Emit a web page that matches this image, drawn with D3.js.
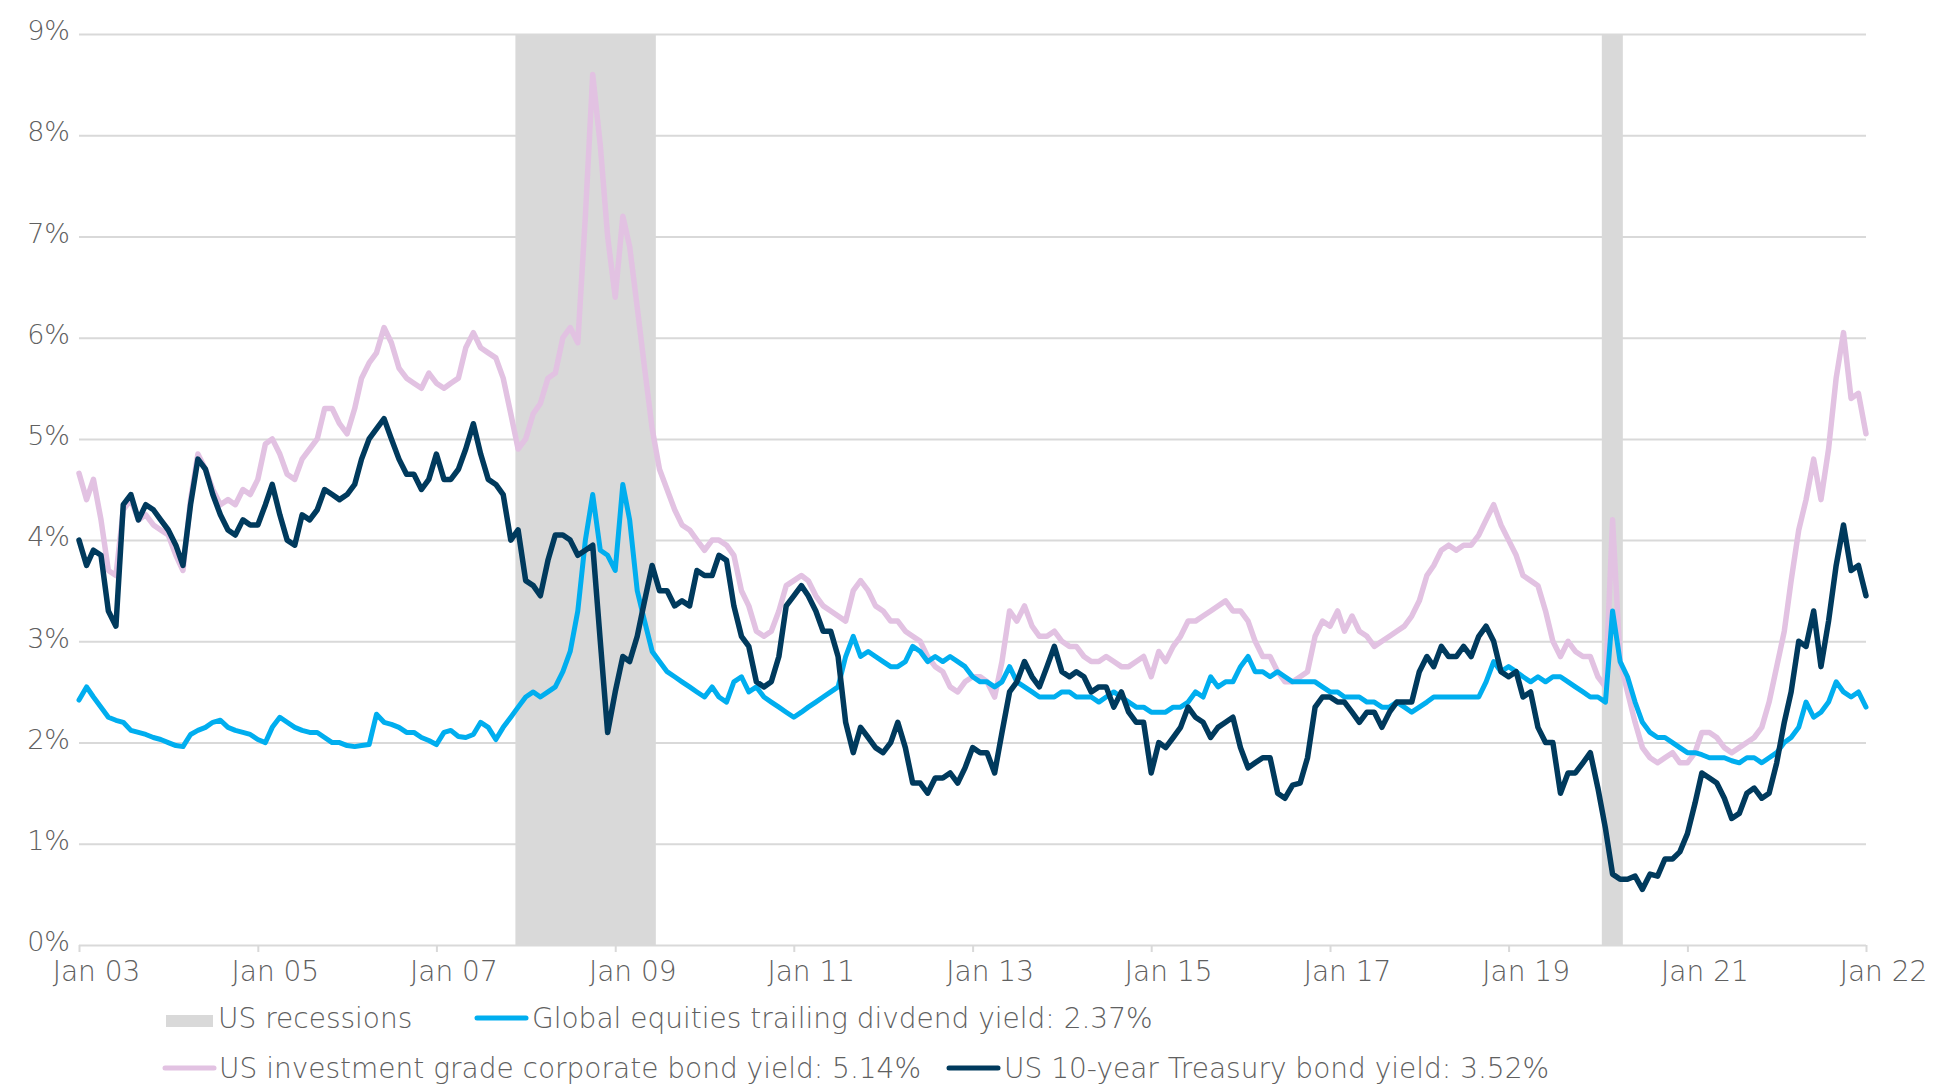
<!DOCTYPE html>
<html>
<head>
<meta charset="utf-8">
<title>Yields</title>
<script src="https://cdn.jsdelivr.net/npm/d3@7"></script>
<style>
  body { margin: 0; background: #fff; }
  svg text { font-family: "DejaVu Sans", sans-serif; font-weight: 200; fill: #606060; }
</style>
</head>
<body>
<script>
// Monthly readings, Jan 2003 .. Jan 2023 (241 values per series)
const divYield = [
  2.42, 2.55, 2.45, 2.35, 2.25, 2.22, 2.2, 2.12, 2.1, 2.08, 2.05, 2.03,
  2.0, 1.97, 1.96, 2.08, 2.12, 2.15, 2.2, 2.22, 2.15, 2.12, 2.1, 2.08,
  2.03, 2.0, 2.15, 2.25, 2.2, 2.15, 2.12, 2.1, 2.1, 2.05, 2.0, 2.0,
  1.97, 1.96, 1.97, 1.98, 2.28, 2.2, 2.18, 2.15, 2.1, 2.1, 2.05, 2.02,
  1.98, 2.1, 2.12, 2.06, 2.05, 2.08, 2.2, 2.15, 2.03, 2.15, 2.25, 2.35,
  2.45, 2.5, 2.45, 2.5, 2.55, 2.7, 2.9, 3.3, 4.0, 4.45, 3.9, 3.85,
  3.7, 4.55, 4.2, 3.5, 3.2, 2.9, 2.8, 2.7, 2.65, 2.6, 2.55, 2.5,
  2.45, 2.55, 2.45, 2.4, 2.6, 2.65, 2.5, 2.55, 2.45, 2.4, 2.35, 2.3,
  2.25, 2.3, 2.35, 2.4, 2.45, 2.5, 2.55, 2.85, 3.05, 2.85, 2.9, 2.85,
  2.8, 2.75, 2.75, 2.8, 2.95, 2.9, 2.8, 2.85, 2.8, 2.85, 2.8, 2.75,
  2.65, 2.6, 2.6, 2.55, 2.6, 2.75, 2.6, 2.55, 2.5, 2.45, 2.45, 2.45,
  2.5, 2.5, 2.45, 2.45, 2.45, 2.4, 2.45, 2.5, 2.45, 2.4, 2.35, 2.35,
  2.3, 2.3, 2.3, 2.35, 2.35, 2.4, 2.5, 2.45, 2.65, 2.55, 2.6, 2.6,
  2.75, 2.85, 2.7, 2.7, 2.65, 2.7, 2.65, 2.6, 2.6, 2.6, 2.6, 2.55,
  2.5, 2.5, 2.45, 2.45, 2.45, 2.4, 2.4, 2.35, 2.35, 2.4, 2.35, 2.3,
  2.35, 2.4, 2.45, 2.45, 2.45, 2.45, 2.45, 2.45, 2.45, 2.6, 2.8, 2.7,
  2.75, 2.7, 2.65, 2.6, 2.65, 2.6, 2.65, 2.65, 2.6, 2.55, 2.5, 2.45,
  2.45, 2.4, 3.3, 2.8, 2.65, 2.4, 2.2, 2.1, 2.05, 2.05, 2.0, 1.95,
  1.9, 1.9, 1.88, 1.85, 1.85, 1.85, 1.82, 1.8, 1.85, 1.85, 1.8, 1.85,
  1.9, 2.0, 2.05, 2.15, 2.4, 2.25, 2.3, 2.4, 2.6, 2.5, 2.45, 2.5,
  2.35
];

const corpYield = [
  4.66, 4.4, 4.6, 4.2, 3.7, 3.65, 4.3, 4.4, 4.2, 4.25, 4.15, 4.1,
  4.05, 3.85, 3.7, 4.4, 4.85, 4.7, 4.5, 4.35, 4.4, 4.35, 4.5, 4.45,
  4.6, 4.95, 5.0, 4.85, 4.65, 4.6, 4.8, 4.9, 5.0, 5.3, 5.3, 5.15,
  5.05, 5.3, 5.6, 5.75, 5.85, 6.1, 5.95, 5.7, 5.6, 5.55, 5.5, 5.65,
  5.55, 5.5, 5.55, 5.6, 5.9, 6.05, 5.9, 5.85, 5.8, 5.6, 5.25, 4.9,
  5.0, 5.25, 5.35, 5.6, 5.65, 6.0, 6.1, 5.95, 7.2, 8.6, 7.9, 7.0,
  6.4, 7.2, 6.9, 6.3, 5.7, 5.1, 4.7, 4.5, 4.3, 4.15, 4.1, 4.0,
  3.9, 4.0, 4.0, 3.95, 3.85, 3.5, 3.35, 3.1, 3.05, 3.1, 3.3, 3.55,
  3.6, 3.65, 3.6, 3.45, 3.35, 3.3, 3.25, 3.2, 3.5, 3.6, 3.5, 3.35,
  3.3, 3.2, 3.2, 3.1, 3.05, 3.0, 2.85, 2.75, 2.7, 2.55, 2.5, 2.6,
  2.65, 2.65, 2.6, 2.45, 2.8, 3.3, 3.2, 3.35, 3.15, 3.05, 3.05, 3.1,
  3.0, 2.95, 2.95, 2.85, 2.8, 2.8, 2.85, 2.8, 2.75, 2.75, 2.8, 2.85,
  2.65, 2.9, 2.8, 2.95, 3.05, 3.2, 3.2, 3.25, 3.3, 3.35, 3.4, 3.3,
  3.3, 3.2, 3.0, 2.85, 2.85, 2.7, 2.6, 2.6, 2.65, 2.7, 3.05, 3.2,
  3.15, 3.3, 3.1, 3.25, 3.1, 3.05, 2.95, 3.0, 3.05, 3.1, 3.15, 3.25,
  3.4, 3.65, 3.75, 3.9, 3.95, 3.9, 3.95, 3.95, 4.05, 4.2, 4.35, 4.15,
  4.0, 3.85, 3.65, 3.6, 3.55, 3.3, 3.0, 2.85, 3.0, 2.9, 2.85, 2.85,
  2.65, 2.55, 4.2, 2.8, 2.5, 2.2, 1.95, 1.85, 1.8, 1.85, 1.9, 1.8,
  1.8, 1.9, 2.1, 2.1, 2.05, 1.95, 1.9, 1.95, 2.0, 2.05, 2.15, 2.4,
  2.75, 3.1, 3.6, 4.1, 4.4, 4.8, 4.4, 4.9, 5.6, 6.05, 5.4, 5.45,
  5.05
];

const treasuryYield = [
  4.0, 3.75, 3.9, 3.85, 3.3, 3.15, 4.35, 4.45, 4.2, 4.35, 4.3, 4.2,
  4.1, 3.95, 3.75, 4.35, 4.8, 4.7, 4.45, 4.25, 4.1, 4.05, 4.2, 4.15,
  4.15, 4.35, 4.55, 4.25, 4.0, 3.95, 4.25, 4.2, 4.3, 4.5, 4.45, 4.4,
  4.45, 4.55, 4.8, 5.0, 5.1, 5.2, 5.0, 4.8, 4.65, 4.65, 4.5, 4.6,
  4.85, 4.6, 4.6, 4.7, 4.9, 5.15, 4.85, 4.6, 4.55, 4.45, 4.0, 4.1,
  3.6, 3.55, 3.45, 3.8, 4.05, 4.05, 4.0, 3.85, 3.9, 3.95, 3.0, 2.1,
  2.5, 2.85, 2.8, 3.05, 3.4, 3.75, 3.5, 3.5, 3.35, 3.4, 3.35, 3.7,
  3.65, 3.65, 3.85, 3.8, 3.35, 3.05, 2.95, 2.6, 2.55, 2.6, 2.85, 3.35,
  3.45, 3.55, 3.45, 3.3, 3.1, 3.1, 2.85, 2.2, 1.9, 2.15, 2.05, 1.95,
  1.9, 2.0, 2.2, 1.95, 1.6, 1.6, 1.5, 1.65, 1.65, 1.7, 1.6, 1.75,
  1.95, 1.9, 1.9, 1.7, 2.1, 2.5, 2.6, 2.8, 2.65, 2.55, 2.75, 2.95,
  2.7, 2.65, 2.7, 2.65, 2.5, 2.55, 2.55, 2.35, 2.5, 2.3, 2.2, 2.2,
  1.7, 2.0, 1.95, 2.05, 2.15, 2.35, 2.25, 2.2, 2.05, 2.15, 2.2, 2.25,
  1.95, 1.75, 1.8, 1.85, 1.85, 1.5, 1.45, 1.58, 1.6, 1.85, 2.35, 2.45,
  2.45, 2.4, 2.4, 2.3, 2.2, 2.3, 2.3, 2.15, 2.3, 2.4, 2.4, 2.4,
  2.7, 2.85, 2.75, 2.95, 2.85, 2.85, 2.95, 2.85, 3.05, 3.15, 3.0, 2.7,
  2.65, 2.7, 2.45, 2.5, 2.15, 2.0, 2.0, 1.5, 1.7, 1.7, 1.8, 1.9,
  1.55, 1.15, 0.7, 0.65, 0.65, 0.68, 0.55, 0.7, 0.68, 0.85, 0.85, 0.92,
  1.1, 1.4, 1.7, 1.65, 1.6, 1.45, 1.25, 1.3, 1.5, 1.55, 1.45, 1.5,
  1.8, 2.2, 2.5, 3.0, 2.95, 3.3, 2.75, 3.2, 3.75, 4.15, 3.7, 3.75,
  3.45
];

const recessionStarts = ["2007-11-20", "2020-01-17"];
const recessionEnds = ["2009-06-16", "2020-04-12"];

const yTicks = [0, 1, 2, 3, 4, 5, 6, 7, 8, 9];
const xTickDates = ["2003-01-01", "2005-01-01", "2007-01-01", "2009-01-01", "2011-01-01",
  "2013-01-01", "2015-01-01", "2017-01-01", "2019-01-01", "2021-01-01", "2023-01-01"];
const xTickLabels = ["Jan 03", "Jan 05", "Jan 07", "Jan 09", "Jan 11", "Jan 13",
  "Jan 15", "Jan 17", "Jan 19", "Jan 21", "Jan 22"];

const legendLabels = [
  "US recessions",
  "Global equities trailing divdend yield: 2.37%",
  "US investment grade corporate bond yield: 5.14%",
  "US 10-year Treasury bond yield: 3.52%"
];

// Colours
const cRecession = "#d9d9d9";
const cDiv = "#00aeef";
const cCorp = "#e2c2e2";
const cTreasury = "#003a5d";
const cGrid = "#d9d9d9";

// SVG size and plot area
const w = 1935;
const h = 1086;
const x0 = 79, x1 = 1866;
const yBottom = 945, yTop = 34;

const parse = d3.timeParse("%Y-%m-%d");
const months = d3.timeMonth.range(new Date(2003, 0, 1), new Date(2023, 0, 2));

const xScale = d3.scaleTime()
  .domain([new Date(2003, 0, 1), new Date(2023, 0, 1)])
  .range([x0, x1]);

const yScale = d3.scaleLinear()
  .domain([0, 9])
  .range([yBottom, yTop]);

const svg = d3.select("body")
  .append("svg")
  .attr("width", w)
  .attr("height", h);

// Recession bands
svg.selectAll(".recession")
  .data(recessionStarts)
  .enter()
  .append("rect")
  .attr("class", "recession")
  .attr("x", d => xScale(parse(d)))
  .attr("width", (d, i) => xScale(parse(recessionEnds[i])) - xScale(parse(d)))
  .attr("y", yScale(9) + 1)
  .attr("height", yScale(0) - yScale(9) - 1)
  .attr("fill", cRecession);

// Y axis with gridlines
const yAxis = svg.append("g")
  .attr("transform", `translate(${x0},0)`)
  .call(d3.axisLeft(yScale)
    .tickValues(yTicks)
    .tickSize(-(x1 - x0))
    .tickPadding(9)
    .tickFormat(d => d + "%"));

yAxis.select(".domain").remove();
yAxis.selectAll(".tick line")
  .attr("stroke", cGrid)
  .attr("stroke-width", 2);
yAxis.selectAll(".tick text")
  .attr("dy", "0.21em")
  .style("font-size", "27px");

// X axis
const xAxis = svg.append("g")
  .attr("transform", `translate(0,${yBottom})`)
  .call(d3.axisBottom(xScale)
    .tickValues(xTickDates.map(parse))
    .tickSize(7)
    .tickFormat((d, i) => xTickLabels[i]));

xAxis.select(".domain").remove();
xAxis.selectAll(".tick line")
  .attr("stroke", cGrid)
  .attr("stroke-width", 2);
xAxis.selectAll(".tick text")
  .attr("x", 17)
  .attr("y", 36)
  .attr("dy", 0)
  .style("font-size", "28px");

// Lines
function drawLine(values, color, width) {
  const line = d3.line()
    .x((d, i) => xScale(months[i]))
    .y(d => yScale(d));

  svg.append("path")
    .datum(values)
    .attr("fill", "none")
    .attr("stroke", color)
    .attr("stroke-width", width)
    .attr("stroke-linejoin", "round")
    .attr("stroke-linecap", "round")
    .attr("d", line);
}

drawLine(corpYield, cCorp, 5.5);
drawLine(divYield, cDiv, 5);
drawLine(treasuryYield, cTreasury, 5.5);

// Legend
const legend = svg.append("g");

legend.append("rect")
  .attr("x", 166).attr("y", 1015)
  .attr("width", 47).attr("height", 12)
  .attr("fill", cRecession);

const legendSwatches = [
  { x: 477, y: 1018, color: cDiv },
  { x: 165, y: 1068, color: cCorp },
  { x: 949, y: 1068, color: cTreasury }
];

legend.selectAll(".swatch")
  .data(legendSwatches)
  .enter()
  .append("line")
  .attr("x1", d => d.x)
  .attr("x2", d => d.x + 49)
  .attr("y1", d => d.y)
  .attr("y2", d => d.y)
  .attr("stroke", d => d.color)
  .attr("stroke-width", 5)
  .attr("stroke-linecap", "round");

const legendPos = [[218, 1028], [532, 1028], [219, 1078], [1004, 1078]];

legend.selectAll(".label")
  .data(legendLabels)
  .enter()
  .append("text")
  .attr("x", (d, i) => legendPos[i][0])
  .attr("y", (d, i) => legendPos[i][1])
  .style("font-size", "28px")
  .text(d => d);
</script>
</body>
</html>
